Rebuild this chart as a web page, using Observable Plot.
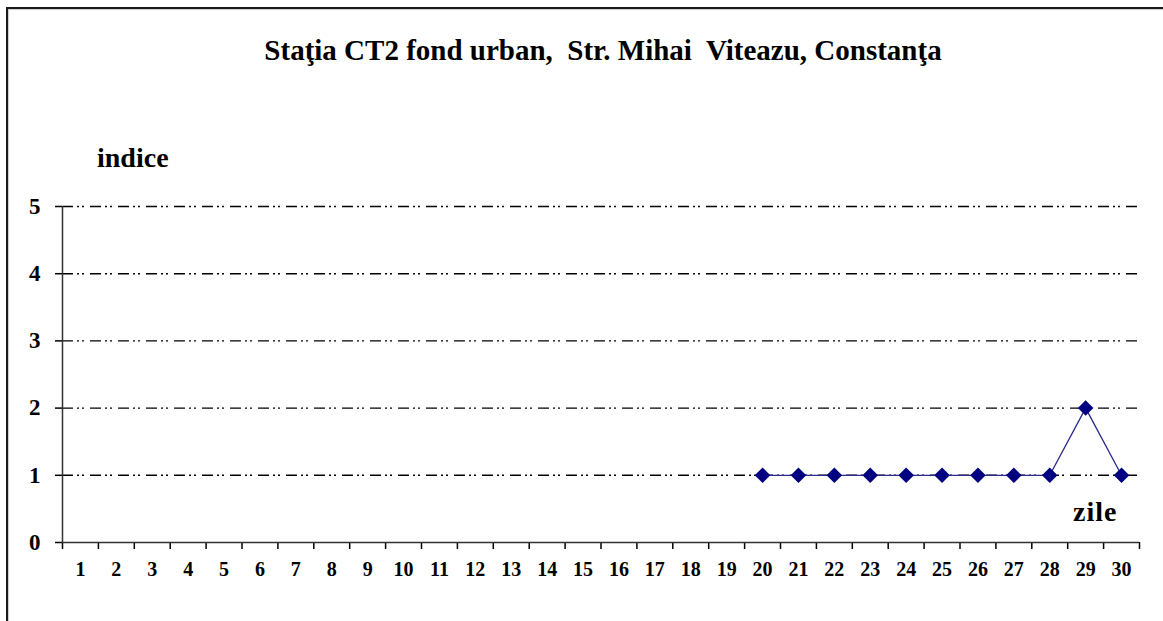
<!DOCTYPE html>
<html>
<head>
<meta charset="utf-8">
<script src="https://cdn.jsdelivr.net/npm/d3@7"></script>
<script src="https://cdn.jsdelivr.net/npm/@observablehq/plot@0.6"></script>
<style>
  html, body { margin: 0; padding: 0; background: #fff; }
  body { width: 1163px; height: 621px; position: relative; overflow: hidden; font-family: "Liberation Serif", "Times New Roman", serif; }
  #border { position: absolute; left: 6px; top: 7px; width: 1300px; height: 700px; border-top: 2.5px solid #1a1a1a; border-left: 2.5px solid #1a1a1a; box-shadow: 1px 1px 1px #ccc inset; }
  #title { position: absolute; left: 0; top: 34px; width: 1206px; text-align: center; font-weight: bold; font-size: 29px; white-space: pre; color: #000; }
  #chart { position: absolute; left: 0; top: 0; }
  .lbl { position: absolute; font-weight: bold; font-size: 28px; color: #000; white-space: pre; }
</style>
</head>
<body>
<div id="border"></div>
<div id="title"></div>
<div id="ylabel" class="lbl" style="left:97px; top:142px;"></div>
<div id="xlabel" class="lbl" style="left:1073px; top:496px; letter-spacing:1px;"></div>
<div id="chart"></div>
<script>
const title = "Staţia CT2 fond urban,  Str. Mihai  Viteazu, Constanţa";
const yTitle = "indice";
const xTitle = "zile";
const days = d3.range(1, 31);
const yTicks = [0, 1, 2, 3, 4, 5];
const gridLevels = [1, 2, 3, 4, 5];
const dataDays = [20, 21, 22, 23, 24, 25, 26, 27, 28, 29, 30];
const dataValues = [1, 1, 1, 1, 1, 1, 1, 1, 1, 2, 1];

document.getElementById("title").textContent = title;
document.getElementById("ylabel").textContent = yTitle;
document.getElementById("xlabel").textContent = xTitle;

const data = dataDays.map((d, i) => ({day: d, value: dataValues[i]}));
const boundaries = [days[0] - 0.5, ...days.map(d => d + 0.5)];

const plot = Plot.plot({
  width: 1163,
  height: 621,
  marginLeft: 62,
  marginRight: 24,
  marginTop: 206,
  marginBottom: 79,
  style: {fontFamily: "'Liberation Serif', 'Times New Roman', serif", background: "transparent", color: "#000"},
  x: {type: "linear", domain: [days[0] - 0.5, days[days.length - 1] + 0.5], axis: null, label: null},
  y: {type: "linear", domain: [0, 5], axis: null, label: null},
  marks: [
    Plot.ruleY(gridLevels, {stroke: "#000", strokeWidth: 1.4, strokeDasharray: "11,4,2,3,2,6"}),
    Plot.axisY({ticks: yTicks, tickSize: 7, tickPadding: 15, label: null, tickFormat: d => String(d), fontSize: 23, fontWeight: "bold", stroke: "#000", strokeWidth: 1.5, strokeOpacity: 1}),
    Plot.axisX({ticks: boundaries, tickSize: 7, label: null, tickFormat: () => "", stroke: "#000", strokeWidth: 1.5, strokeOpacity: 1}),
    Plot.axisX({ticks: days, tickSize: 0, tickPadding: 19, label: null, tickFormat: d => String(d), fontSize: 20, fontWeight: "bold"}),
    Plot.ruleX([days[0] - 0.5], {stroke: "#333", strokeWidth: 1.5}),
    Plot.ruleY([0], {stroke: "#333", strokeWidth: 1.5}),
    Plot.line(data, {x: "day", y: "value", stroke: "#2a2a8c", strokeWidth: 1.3}),
    Plot.dot(data, {x: "day", y: "value", symbol: "diamond2", r: 7, fill: "#000080", stroke: "none"})
  ]
});
document.getElementById("chart").appendChild(plot);
</script>
</body>
</html>
